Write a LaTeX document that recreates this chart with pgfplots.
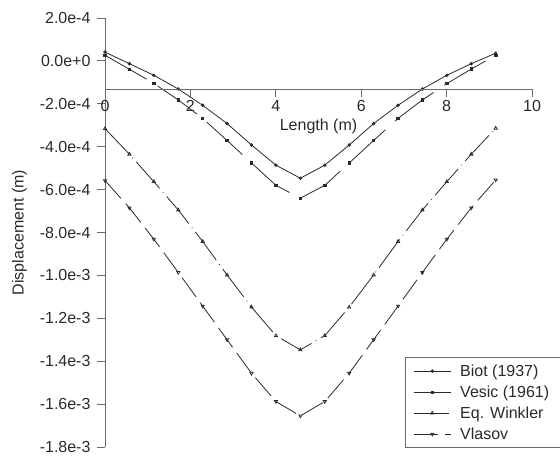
\documentclass[border=0pt]{standalone}
\usepackage{pgfplots}
\pgfplotsset{compat=1.18}
\usepackage{fontspec}
\setmainfont{Liberation Sans}
\definecolor{ln}{HTML}{2A2A2A}
\definecolor{ax}{HTML}{6A6A6A}
\newcommand{\lf}{\fontsize{16bp}{19bp}\selectfont}
\begin{document}
\begin{tikzpicture}
\useasboundingbox (-105bp,-10bp) rectangle (455bp,447bp);
\begin{axis}[
  at={(0,0)}, anchor=south west,
  scale only axis, width=427bp, height=429bp,
  xmin=0, xmax=10, ymin=-1.8e-3, ymax=2e-4,
  scaled y ticks=false,
  axis x line=none, axis y line*=left,
  axis line style={ax, line width=0.8bp},
  y axis line style={ax},
  tick align=outside, major tick length=8bp,
  tick style={ax, line width=0.8bp},
  ytick={-1.8e-3,-1.6e-3,-1.4e-3,-1.2e-3,-1.0e-3,-8e-4,-6e-4,-4e-4,-2e-4,0,2e-4},
  yticklabels={-1.8e-3,-1.6e-3,-1.4e-3,-1.2e-3,-1.0e-3,-8.0e-4,-6.0e-4,-4.0e-4,-2.0e-4,0.0e+0,2.0e-4},
  yticklabel style={font=\lf, text=ln, xshift=-3bp},
  ylabel={Displacement (m)},
  ylabel style={font=\lf, text=ln},
  ylabel shift=6bp,
  clip=false,
  legend cell align=left,
  legend style={at={(0.7026,-0.003)}, anchor=south west, font=\lf, draw=ax, line width=0.8bp,
    inner xsep=8bp, inner ysep=6bp, row sep=5.5bp, text=ln,
    nodes={inner xsep=9bp, inner ysep=1.2bp}},
  legend image code/.code={\draw[mark repeat=2,mark phase=2,#1] plot coordinates {(0bp,0bp) (18.5bp,0bp) (37bp,0bp)};},
  every axis plot/.append style={ln, line width=0.8bp},
]
\addplot[mark=*, mark size=1.3bp, mark options={solid, fill=ln}] coordinates {
(0,0.41e-4) (0.572,-0.13e-4) (1.144,-0.67e-4) (1.716,-1.31e-4) (2.288,-2.07e-4) (2.859,-2.92e-4) (3.431,-3.92e-4) (4.003,-4.86e-4) (4.575,-5.47e-4) (5.147,-4.86e-4) (5.719,-3.92e-4) (6.291,-2.92e-4) (6.863,-2.07e-4) (7.434,-1.31e-4) (8.006,-0.67e-4) (8.578,-0.13e-4) (9.15,0.36e-4)};
\addlegendentry{Biot (1937)}
\addplot[dash pattern=on 48bp off 13bp, mark=square*, mark size=1.2bp, mark options={solid, fill=ln}] coordinates {
(0,0.26e-4) (0.572,-0.39e-4) (1.144,-1.05e-4) (1.716,-1.82e-4) (2.288,-2.68e-4) (2.859,-3.71e-4) (3.431,-4.76e-4) (4.003,-5.80e-4) (4.575,-6.40e-4) (5.147,-5.80e-4) (5.719,-4.76e-4) (6.291,-3.71e-4) (6.863,-2.68e-4) (7.434,-1.82e-4) (8.006,-1.06e-4) (8.578,-0.38e-4) (9.15,0.26e-4)};
\addlegendentry{Vesic (1961)}
\addplot[dash pattern=on 35bp off 5bp on 0.8bp off 5bp, mark=triangle, mark size=1.8bp, mark options={solid}] coordinates {
(0,-3.16e-4) (0.572,-4.35e-4) (1.144,-5.63e-4) (1.716,-6.95e-4) (2.288,-8.42e-4) (2.859,-9.98e-4) (3.431,-11.48e-4) (4.003,-12.81e-4) (4.575,-13.47e-4) (5.147,-12.81e-4) (5.719,-11.48e-4) (6.291,-9.98e-4) (6.863,-8.42e-4) (7.434,-6.95e-4) (8.006,-5.63e-4) (8.578,-4.35e-4) (9.15,-3.14e-4)};
\addlegendentry{Eq. Winkler}
\addplot[dash pattern=on 24bp off 7bp, mark=triangle, mark size=1.8bp, mark options={solid, rotate=180}] coordinates {
(0,-5.58e-4) (0.572,-6.85e-4) (1.144,-8.31e-4) (1.716,-9.86e-4) (2.288,-11.43e-4) (2.859,-13.00e-4) (3.431,-14.56e-4) (4.003,-15.88e-4) (4.575,-16.55e-4) (5.147,-15.88e-4) (5.719,-14.56e-4) (6.291,-13.00e-4) (6.863,-11.43e-4) (7.434,-9.86e-4) (8.006,-8.31e-4) (8.578,-6.85e-4) (9.15,-5.55e-4)};
\addlegendentry{Vlasov}
\end{axis}
\begin{axis}[
  at={(0,358bp)}, anchor=south west,
  scale only axis, width=427bp, height=71bp,
  xmin=0, xmax=10, ymin=0, ymax=1,
  axis x line*=bottom, axis y line=none,
  axis line style={ax, line width=0.8bp},
  tick align=outside, major tick length=8bp,
  tick style={ax, line width=0.8bp},
  xtick={0,2,4,6,8,10},
  xticklabels={0,2,4,6,8,10},
  xticklabel style={font=\lf, text=ln},
  xlabel={Length (m)},
  xlabel style={font=\lf, text=ln},
]
\end{axis}
\end{tikzpicture}
\end{document}
